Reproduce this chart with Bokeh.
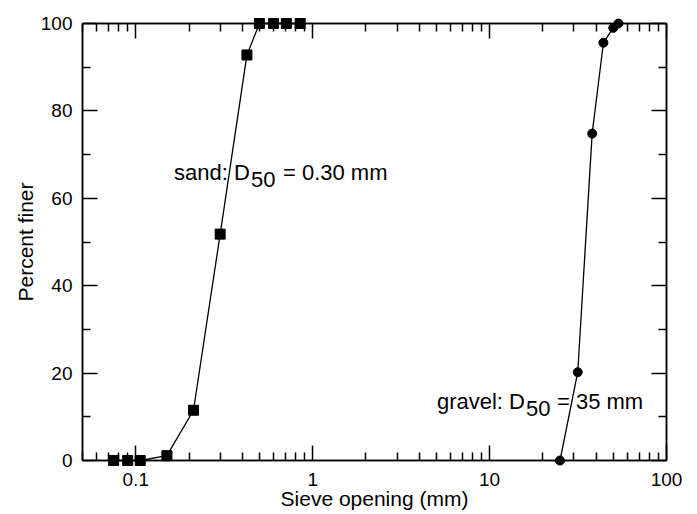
from bokeh.plotting import figure
from bokeh.models import FixedTicker, LogAxis, LinearAxis, Range1d
from bokeh.core.properties import value
from bokeh.embed import file_html
from bokeh.resources import INLINE

# ---- data ----
sand_size = [0.075, 0.090, 0.106, 0.150, 0.212, 0.300, 0.425, 0.500, 0.600, 0.710, 0.850]
sand_pct = [0, 0, 0, 1.1, 11.5, 51.8, 92.8, 100, 100, 100, 100]
gravel_size = [25.0, 31.5, 38.0, 44.0, 50.0, 53.5]
gravel_pct = [0, 20.2, 74.8, 95.6, 99.0, 100]

x_major = [0.1, 1, 10, 100]
x_major_labels = ["0.1", "1", "10", "100"]
x_minor = [0.05, 0.06, 0.07, 0.08, 0.09,
           0.2, 0.3, 0.4, 0.5, 0.6, 0.7, 0.8, 0.9,
           2, 3, 4, 5, 6, 7, 8, 9,
           20, 30, 40, 50, 60, 70, 80, 90]
y_major = [0, 20, 40, 60, 80, 100]
y_minor = [10, 30, 50, 70, 90]

sand_label = ["sand: D", "50", "= 0.30 mm"]
gravel_label = ["gravel: D", "50", "= 35 mm"]
sand_label_pos = (0.1644, 65.9)
gravel_label_pos = (5.04, 13.4)

FONT = "Liberation Sans"

p = figure(width=697, height=514, x_axis_type="log",
           x_range=Range1d(0.05, 100), y_range=Range1d(0, 100),
           output_backend="svg", toolbar_location=None,
           min_border_left=82, min_border_right=31,
           min_border_top=23, min_border_bottom=54,
           x_axis_label="Sieve opening (mm)", y_axis_label="Percent finer")
p.grid.visible = False
p.outline_line_color = "black"
p.outline_line_width = 1.5
p.background_fill_color = "white"
p.border_fill_color = "white"

xt = FixedTicker(ticks=x_major, minor_ticks=x_minor)
yt = FixedTicker(ticks=y_major, minor_ticks=y_minor)


def style(ax, labels=True):
    ax.axis_line_color = "black"
    ax.axis_line_width = 1.5
    ax.major_tick_in = 15
    ax.major_tick_out = 0
    ax.minor_tick_in = 8
    ax.minor_tick_out = 0
    ax.major_tick_line_width = 1.5
    ax.minor_tick_line_width = 1.5
    ax.major_tick_line_color = "black"
    ax.minor_tick_line_color = "black"
    ax.major_label_text_font = FONT
    ax.major_label_text_color = "black"
    ax.axis_label_text_font = FONT
    ax.axis_label_text_font_style = "normal"
    ax.axis_label_text_color = "black"
    ax.axis_label_text_font_size = "21px"
    if labels:
        ax.major_label_text_font_size = "19px"
    else:
        ax.major_label_text_font_size = "1px"
        ax.major_label_text_alpha = 0
        ax.major_label_standoff = 0


xa = p.xaxis[0]
xa.ticker = xt
style(xa)
xa.major_label_standoff = 12
xa.axis_label_standoff = -2
xa.major_label_overrides = dict(zip(x_major, x_major_labels))

ya = p.yaxis[0]
ya.ticker = yt
style(ya)
ya.major_label_standoff = 10
ya.axis_label_standoff = 1

top = LogAxis(ticker=FixedTicker(ticks=x_major, minor_ticks=x_minor))
style(top, labels=False)
p.add_layout(top, "above")
right = LinearAxis(ticker=FixedTicker(ticks=y_major, minor_ticks=y_minor))
style(right, labels=False)
p.add_layout(right, "right")

# sand
r1 = p.line(sand_size, sand_pct, line_color="black", line_width=1.3)
r2 = p.scatter(sand_size, sand_pct, marker="square", size=10, fill_color="black", line_color="black")
# gravel
r3 = p.line(gravel_size, gravel_pct, line_color="black", line_width=1.3)
r4 = p.scatter(gravel_size, gravel_pct, marker="circle", size=9, fill_color="black", line_color="black")
for r in (r1, r2, r3, r4):
    r.level = "overlay"


def label(pos, parts, offs):
    for txt, (dx, dy) in zip(parts, offs):
        p.text(x=[pos[0]], y=[pos[1]], text=[txt], x_offset=dx, y_offset=dy,
               text_font=value(FONT), text_font_size="22px",
               text_baseline="alphabetic", text_align="left", text_color="black")


label(sand_label_pos, sand_label, [(0, 0), (77, 7), (109, 0)])
label(gravel_label_pos, gravel_label, [(0, 0), (89, 7), (120, 0)])

open("out.html", "w").write(file_html(p, INLINE))
